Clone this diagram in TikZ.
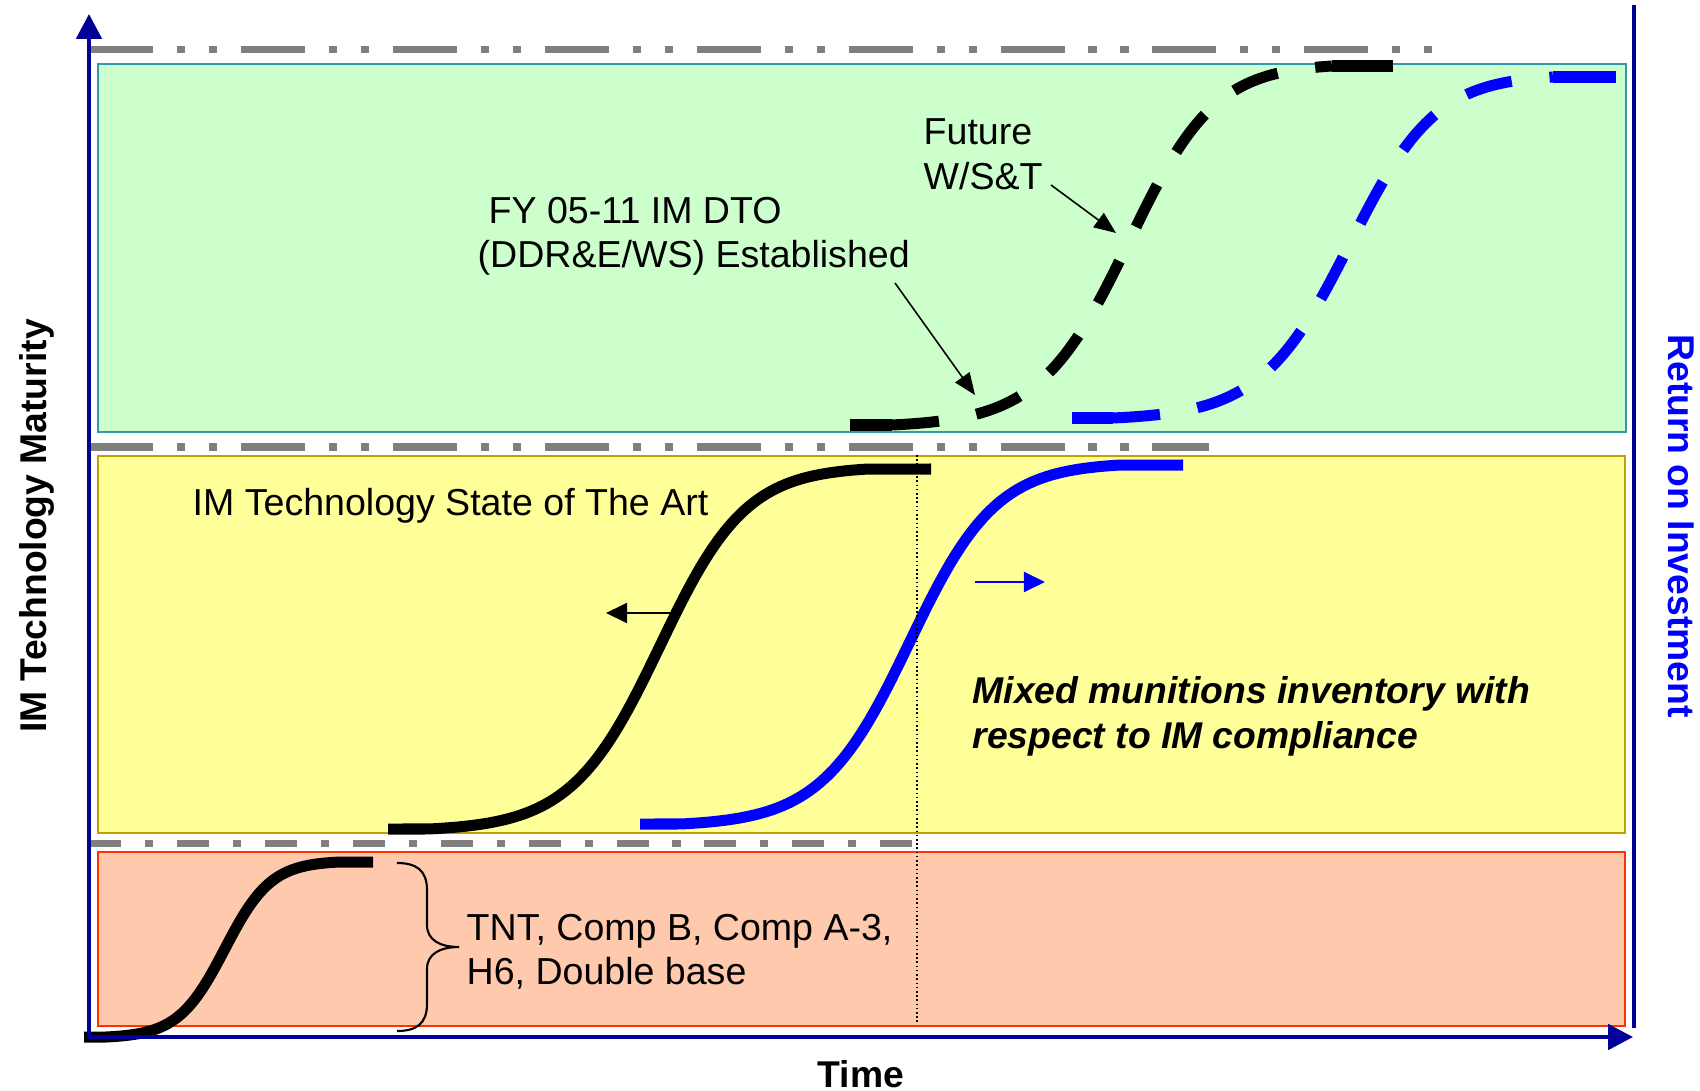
\documentclass[tikz,border=0pt]{standalone}
\usepackage{fontspec}
\setmainfont{Liberation Sans}
\usetikzlibrary{arrows.meta}
\definecolor{axisblue}{HTML}{000099}
\definecolor{curveblue}{HTML}{0000FF}
\definecolor{greenfill}{HTML}{CCFFCC}
\definecolor{greenline}{HTML}{3399AA}
\definecolor{yellowfill}{HTML}{FFFF99}
\definecolor{yellowline}{HTML}{C0A000}
\definecolor{salmonfill}{HTML}{FFC9AE}
\definecolor{salmonline}{HTML}{FF3300}
\definecolor{grayline}{HTML}{808080}
\begin{document}
\begin{tikzpicture}[x=0.01cm,y=-0.01cm,
  lbl/.style={inner sep=0pt, font=\fontsize{10.68}{12.8}\selectfont, anchor=base west},
  axislbl/.style={inner sep=0pt, font=\fontsize{10.6}{12.8}\selectfont\bfseries, anchor=base},
  band/.style={line width=0.57pt},
  graylong/.style={grayline, line width=2pt, dash pattern=on 18.2pt off 6.8pt on 2.3pt off 6.8pt on 2.3pt off 6.8pt},
  grayshort/.style={grayline, line width=2pt, dash pattern=on 9.1pt off 6.8pt on 2.3pt off 6.8pt},
  thickcurve/.style={line width=3.13pt},
  dashcurve/.style={line width=3.13pt, dash pattern=on 13.4pt off 10.8pt},
  axisline/.style={axisblue, line width=1.14pt},
  axistip/.style={-{Triangle[length=7.1pt,width=7.2pt]}},
  annot/.style={line width=0.45pt, -{Triangle[length=6.2pt,width=5pt]}},
  shiftarrow/.style={line width=0.6pt, -{Triangle[length=6pt,width=5.7pt]}},
  vdotted/.style={line width=0.45pt, dash pattern=on 0.45pt off 0.75pt}
]
\useasboundingbox (0,0) rectangle (1700,1091);

% bands
\draw[band, fill=greenfill, draw=greenline] (98,64) rectangle (1626,432);
\draw[band, fill=yellowfill, draw=yellowline] (98,456) rectangle (1625,833);
\draw[band, fill=salmonfill, draw=salmonline] (98,852) rectangle (1625,1026);

% gray dash-dot levels
\draw[graylong] (89,49.5) -- (1434,49.5);
\draw[graylong] (89,447) -- (1209,447);
\draw[grayshort] (89,843.5) -- (914,843.5);

% bottom S-curve (black)
\draw[thickcurve] (84,1037) -- plot[domain=-1:1, samples=100, variable=\t]
  ({222.5+116.5*\t+2*(1-\t*\t)}, {949.5-87.5*tanh(2.5*\t)/0.986614}) -- (373,862);

% middle S-curve (black)
\draw[thickcurve] (388,829) -- plot[domain=-1:1, samples=120, variable=\t]
  ({648.5+219.5*\t+10*(1-\t*\t)}, {649-180*tanh(2.5*\t)/0.986614}) -- (931,469);

% middle S-curve (blue)
\draw[thickcurve, curveblue] (640,824) -- plot[domain=-1:1, samples=120, variable=\t]
  ({900.5+219.5*\t+8*(1-\t*\t)}, {644.5-179.5*tanh(2.5*\t)/0.986614}) -- (1183,465);

% top dashed S-curve (black)
\draw[thickcurve] (850,425) -- (892,425);
\draw[dashcurve] plot[domain=-1:1, samples=120, variable=\t]
  ({1112+220*\t+15*(1-\t*\t)}, {245.5-179.5*tanh(2.5*\t)/0.986614});
\draw[thickcurve] (1332,66) -- (1393,66);

% top dashed S-curve (blue)
\draw[thickcurve, curveblue] (1072,418) -- (1113,418);
\draw[dashcurve, curveblue] plot[domain=-1:1, samples=120, variable=\t]
  ({1333+220*\t+15*(1-\t*\t)}, {247.5-170.5*tanh(2.5*\t)/0.986614});
\draw[thickcurve, curveblue] (1553,77) -- (1616,77);

% dotted vertical
\draw[vdotted] (917,455) -- (917,1022);

% axes
\draw[axisline] (1634,5) -- (1634,1028);
\draw[axisline, axistip] (89,1039) -- (89,14);
\draw[axisline, axistip] (87,1037) -- (1633,1037);

% labels
\node[lbl] (fy1) at (488,224) {FY 05-11 IM DTO};
\node[lbl] (fy2) at (477,268) {(DDR\&E/WS) Established};
\node[lbl] (fu1) at (923,145) {Future};
\node[lbl] (fu2) at (923,190) {W/S\&T};
\node[lbl] (sota) at (192,515) {IM Technology State of The Art};
\node[lbl] (tnt1) at (466,940) {TNT, Comp B, Comp A-3,};
\node[lbl] (tnt2) at (466,984) {H6, Double base};
\node[lbl, font=\fontsize{10.6}{12.8}\selectfont\bfseries\itshape] (mix1) at (972,703) {Mixed munitions inventory with};
\node[lbl, font=\fontsize{10.6}{12.8}\selectfont\bfseries\itshape] (mix2) at (972,748) {respect to IM compliance};
\node[axislbl] (time) at (861,1087) {Time};
\node[axislbl, rotate=90] (ytitle) at (47,526) {IM Technology Maturity};
\node[axislbl, rotate=-90, text=curveblue] (roi) at (1668,526) {Return on Investment};

% annotation arrows
\coordinate (fyS) at (895,283);
\coordinate (fyE) at (975,395);
\coordinate (fuS) at (1051,185);
\coordinate (fuE) at (1116,233);
\draw[annot] (fyS) -- (fyE);
\draw[annot] (fuS) -- (fuE);

% shift arrows
\coordinate (blkS) at (675,613);
\coordinate (blkE) at (606,613);
\coordinate (bluS) at (975,582);
\coordinate (bluE) at (1045,582);
\draw[shiftarrow] (blkS) -- (blkE);
\draw[shiftarrow, curveblue] (bluS) -- (bluE);

% brace
\coordinate (brT) at (397,863);
\coordinate (brM) at (459,947);
\coordinate (brB) at (397,1031);
\draw[line width=0.6pt] (brT) .. controls (416,863) and (427,870) .. (427,890)
  -- (427,925) .. controls (427,940) and (440,947) .. (brM)
  .. controls (440,947) and (427,954) .. (427,969)
  -- (427,1004) .. controls (427,1024) and (416,1031) .. (brB);
\end{tikzpicture}
\end{document}
